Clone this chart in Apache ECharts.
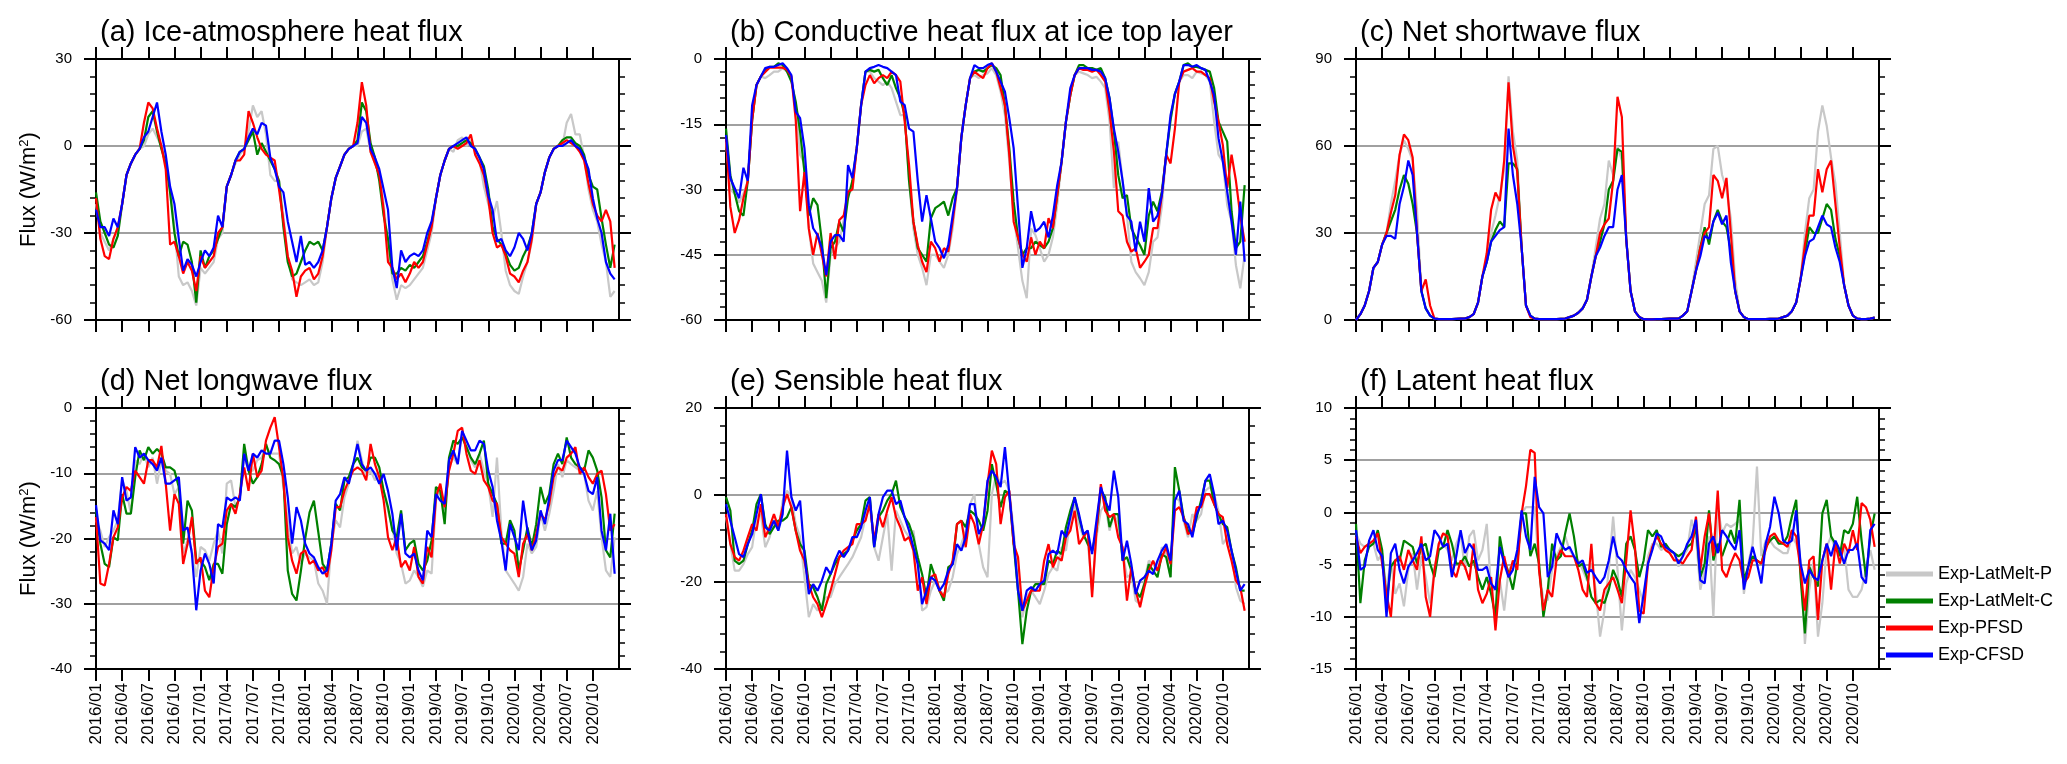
<!DOCTYPE html>
<html>
<head>
<meta charset="utf-8">
<script src="https://cdn.jsdelivr.net/npm/echarts@6/dist/echarts.min.js"></script>
<style>
html,body{margin:0;padding:0;background:#fff;}
#chart{width:2067px;height:764px;}
</style>
</head>
<body>
<div id="chart"></div>
<script>
// ---- categories (semi-monthly, 2016/01 .. 2020/12, plus closing edge 2021/01) ----
const years = [2016, 2017, 2018, 2019, 2020];
const months = ['01','02','03','04','05','06','07','08','09','10','11','12'];
const dates = [];
years.forEach(y => months.forEach(m => { dates.push(y + '/' + m + '-1'); dates.push(y + '/' + m + '-2'); }));
dates.push('2021/01-1');

const seriesNames = ['Exp-LatMelt-P', 'Exp-LatMelt-C', 'Exp-PFSD', 'Exp-CFSD'];
const panelTitles = ['(a) Ice-atmosphere heat flux', '(b) Conductive heat flux at ice top layer', '(c) Net shortwave flux',
                     '(d) Net longwave flux', '(e) Sensible heat flux', '(f) Latent heat flux'];
const yMin = [-60, -60, 0, -40, -40, -15];
const yMax = [30, 0, 90, 0, 20, 10];
const yStep = [30, 15, 30, 10, 20, 5];

// ---- (a) Ice-atmosphere heat flux ----
const aGray = [
-20,-30,-33,-36,-32,-29,-20,-10,-6,-3,-1,0,4,6,3,0,-5,-15,-28,-45,-48,-47,-50,-55,
-42,-44,-42,-40,-32,-30,-14,-10,-6,-3,-1,5,14,10,12,4,-10,-12,-12,-24,-38,-46,-47,-48,
-47,-46,-48,-47,-40,-28,-18,-11,-7,-3,-1,0,0,5,6,-2,-6,-10,-20,-34,-46,-53,-48,-49,
-48,-46,-44,-42,-36,-30,-18,-10,-5,-1,-2,2,3,0,2,-2,-5,-14,-20,-25,-19,-30,-43,-48,
-50,-51,-45,-40,-33,-20,-16,-9,-4,-1,0,0,8,11,4,4,-4,-15,-22,-26,-34,-40,-52,-50];
const aGreen = [
-16,-26,-30,-34,-35,-31,-20,-10,-6,-3,-1,2,10,12,5,-1,-6,-16,-30,-38,-33,-34,-40,-54,
-36,-42,-38,-36,-32,-28,-14,-10,-5,-2,-1,2,5,-3,1,-2,-5,-8,-12,-28,-40,-45,-44,-40,
-36,-33,-34,-33,-36,-28,-18,-11,-7,-3,-1,0,2,15,12,1,-4,-12,-24,-32,-44,-44,-42,-43,
-41,-42,-40,-38,-33,-27,-18,-10,-5,-1,0,0,1,2,1,-1,-4,-7,-15,-28,-32,-34,-37,-41,
-43,-42,-38,-35,-30,-20,-16,-9,-4,-1,0,2,3,3,1,0,-3,-10,-14,-15,-25,-34,-42,-34];
const aRed = [
-18,-32,-38,-39,-32,-28,-20,-10,-6,-3,-1,8,15,13,6,0,-8,-34,-33,-38,-44,-40,-43,-50,
-38,-42,-40,-38,-30,-28,-14,-10,-5,-5,-3,12,8,3,-1,-3,-4,-5,-15,-26,-38,-43,-52,-45,
-43,-42,-46,-44,-38,-28,-18,-11,-7,-3,-1,0,8,22,14,-2,-6,-10,-22,-40,-42,-46,-44,-47,
-44,-40,-42,-40,-34,-28,-18,-10,-5,-1,0,-1,0,1,4,-3,-6,-10,-18,-30,-35,-34,-38,-44,
-45,-47,-43,-40,-32,-20,-16,-9,-4,-1,0,1,2,1,0,-2,-5,-13,-20,-24,-26,-22,-26,-42];
const aBlue = [
-22,-28,-28,-31,-25,-28,-20,-10,-6,-3,-1,3,5,10,15,5,-3,-14,-20,-32,-43,-39,-41,-45,
-40,-36,-38,-35,-24,-28,-14,-10,-5,-2,-1,3,6,4,8,7,-4,-8,-14,-16,-26,-33,-40,-31,
-41,-40,-42,-40,-36,-28,-18,-11,-7,-3,-1,0,1,10,8,-1,-4,-8,-15,-22,-42,-49,-36,-40,
-38,-37,-38,-36,-30,-26,-18,-10,-5,-1,0,1,2,3,0,-1,-4,-8,-17,-22,-33,-32,-36,-38,
-35,-30,-32,-36,-30,-20,-16,-9,-4,-1,0,0,1,2,0,-1,-4,-8,-18,-25,-30,-40,-44,-46];

// ---- (b) Conductive heat flux at ice top layer ----
const bGray = [
-19,-30,-31,-33,-31,-28,-14,-6,-4,-4.4,-3.7,-2.9,-2.9,-2.1,-2.9,-4.4,-10.6,-22,-24,-39,-47,-49,-51,-56,
-45,-43.5,-42,-37,-31,-30,-20.5,-10.6,-2.9,-2.9,-4.4,-5.2,-6,-5.2,-6.7,-9.8,-12.9,-12.9,-28,-39,-45,-48,-52,-45,
-45,-46.6,-48,-45,-39,-30,-18,-10.6,-4.4,-3.7,-4.4,-3.7,-3.3,-2.1,-3.7,-7.5,-12.9,-23.6,-36,-43.5,-51,-55,-39,-40.5,
-43.5,-46.6,-45,-41,-33.6,-23.6,-14.4,-8.3,-3.7,-2.9,-3.3,-3.7,-4.4,-4.1,-5.2,-6.7,-14.4,-29.7,-19,-28,-36,-46.6,-49,-50.4,
-52,-49,-42,-41,-34,-22,-14,-8,-5.2,-3.7,-3.7,-4.4,-2.9,-3.3,-3.7,-5.2,-14.4,-22,-23.6,-33.6,-37.4,-47.4,-52.7,-45];
const bGreen = [
-16,-26.7,-31,-35,-36,-28,-14,-6,-4,-2.5,-1.8,-1.8,-1,-1.4,-2.9,-5.2,-9.8,-16.7,-26,-36,-32,-33.6,-42,-55,
-43.5,-42,-37.4,-39.7,-32,-28,-20.5,-10.6,-2.9,-2.5,-2.9,-2.5,-4.4,-6,-3.7,-6.7,-9,-12.9,-28,-37.4,-43.5,-45,-46.6,-36.6,
-34.3,-33.6,-32.8,-36,-32,-29.7,-18,-10.6,-4.4,-2.9,-2.5,-2.9,-2.1,-1.4,-2.1,-3.7,-10.6,-20.5,-32.8,-41,-45,-43.5,-43.5,-42,
-42.8,-43.5,-42,-38.9,-31.3,-23.6,-14.4,-8.3,-3.7,-1.4,-1.4,-2.1,-2.1,-2.5,-2.1,-4.4,-9,-16.7,-26.7,-32,-31.3,-38.9,-41,-42.8,
-45,-36,-32.8,-35,-30.5,-22,-14,-8,-5.2,-1.4,-1,-1.8,-1.8,-2.1,-2.5,-2.9,-6.7,-14.4,-16.7,-19,-35,-43.5,-42,-29];
const bRed = [
-18,-34,-40,-37,-32,-28,-14,-6,-4,-3,-2,-2,-2,-2,-2.5,-4,-14,-35,-26,-39,-45,-40,-45,-50,
-40,-46,-37,-36,-30.5,-30,-20.5,-10.6,-6,-3.7,-5.6,-4.4,-3.7,-4.4,-2.9,-3.7,-5.2,-14.4,-24.4,-37.4,-42.8,-46.6,-49,-42,
-43.5,-46.6,-43.5,-44.3,-37.4,-29.7,-18,-10.6,-4.4,-2.9,-3.7,-4.4,-2.1,-1,-2.9,-6.7,-10.6,-22,-37.4,-41,-45,-46.6,-41,-45,
-42,-43.5,-36.6,-38.9,-31.3,-23.6,-14.4,-8.3,-3.7,-2.1,-2.5,-2.5,-2.9,-2.5,-3.7,-5.2,-12.1,-21.3,-35,-36,-42,-44.3,-43.5,-48,
-46.6,-45,-38.9,-38.9,-31.3,-22,-24,-16,-5.2,-2.9,-2.5,-2.1,-2.9,-2.9,-3.7,-4.4,-9.8,-14.4,-19.8,-29.7,-22,-28,-36,-42];
const bBlue = [
-17.5,-27.4,-29.7,-32,-25,-28,-10.6,-6,-4,-2.1,-1.8,-1.8,-1.4,-1,-2.1,-3.7,-12.1,-13.6,-20.5,-33.6,-38.9,-40.5,-43.5,-49.7,
-42,-40.5,-40.5,-42,-24.4,-27.4,-20.5,-10.6,-2.9,-2.1,-1.8,-1.4,-1.8,-2.1,-2.9,-3.7,-9.8,-10.6,-16,-16.7,-28,-37.4,-31.3,-36.6,
-42,-43.5,-45.8,-42.8,-36,-29.7,-18,-10.6,-4.4,-1.4,-2.1,-2.1,-1.4,-1,-2.9,-5.2,-7.5,-13.6,-20.5,-34.3,-48,-43.5,-35,-39.7,
-38.9,-37.4,-41,-36,-29,-23.6,-14.4,-6.7,-3.7,-2.1,-2.1,-2.1,-2.5,-2.5,-2.9,-4.4,-9,-16,-21.3,-28,-36,-37.4,-44.3,-37.4,
-42,-29.7,-37.4,-36,-31.3,-22,-12.9,-8,-5.2,-1.4,-1.4,-1.8,-1.4,-2.1,-2.5,-5.2,-8.3,-18.2,-23.6,-30.5,-37.4,-45,-32.8,-46.6];

// ---- (c) Net shortwave flux ----
const cGray = [
0,2,5,10,18,20,26,30,40,48,57,62,59,55,38,10,4,1.5,0.5,0.3,0.3,0.3,0.3,0.4,
0.5,0.5,1,2,6,15,20,30,36,43,52,84,65,55,25,5,1.5,0.5,0.3,0.3,0.3,0.3,0.3,0.4,
0.5,1,1.5,2.5,4,7,15,25,35,40,55,50,60,55,28,10,3,1,0.3,0.2,0.2,0.3,0.3,0.4,
0.5,0.5,0.5,1.5,3,10,20,30,40,43,59,60,50,45,35,14,3,1,0.3,0.3,0.3,0.3,0.3,0.4,
0.4,0.5,1,1.5,3,6,14,30,42,45,65,74,67,56,47,30,12,5,1.5,0.5,0.3,0.3,0.5,0.8];
const cGreen = [
0,2,5,10,18,20,26,30,34,38,45,50,47,40,30,10,4,1.5,0.5,0.3,0.3,0.3,0.3,0.4,
0.5,0.5,1,2,6,15,20,27,31,34,32,54,54,52,25,5,1.5,0.5,0.3,0.3,0.3,0.3,0.3,0.4,
0.5,1,1.5,2.5,4,7,15,22,27,33,45,48,59,58,28,10,3,1,0.3,0.2,0.2,0.3,0.3,0.4,
0.5,0.5,0.5,1.5,3,10,17,25,32,26,34,38,34,32,24,10,3,1,0.3,0.3,0.3,0.3,0.3,0.4,
0.4,0.5,1,1.5,3,6,14,23,32,30,30,35,40,38,28,22,12,5,1.5,0.5,0.3,0.3,0.5,0.8];
const cRed = [
0,2,5,10,18,20,26,30,37,43,57,64,62,56,30,10,14,5,0.5,0.3,0.3,0.3,0.3,0.4,
0.5,0.5,1,2,6,15,23,38,44,41,55,82,60,51,25,5,1,0.5,0.3,0.3,0.3,0.3,0.3,0.4,
0.5,1,1.5,2.5,4,7,15,22,30,33,35,48,77,70,28,10,3,1,0.3,0.2,0.2,0.3,0.3,0.4,
0.5,0.5,0.5,1.5,3,10,17,25,30,32,50,48,42,49,30,10,3,1,0.3,0.3,0.3,0.3,0.3,0.4,
0.4,0.5,1,1.5,3,6,14,26,36,36,52,44,52,55,40,25,12,5,1.5,0.5,0.3,0.3,0.5,0.8];
const cBlue = [
0,2,5,10,18,20,26,29,29,28,40,46,55,50,30,10,4,1.5,0.5,0.3,0.3,0.3,0.3,0.4,
0.5,0.5,1,2,6,15,20,27,29,31,32,66,50,40,25,5,1.5,0.5,0.3,0.3,0.3,0.3,0.3,0.4,
0.5,1,1.5,2.5,4,7,15,22,25,29,32,32,45,50,28,10,3,1,0.3,0.2,0.2,0.3,0.3,0.4,
0.5,0.5,0.5,1.5,3,10,17,22,29,28,34,37,33,36,20,10,3,1,0.3,0.3,0.3,0.3,0.3,0.4,
0.4,0.5,1,1.5,3,6,14,22,27,28,32,36,33,32,25,20,12,5,1.5,0.5,0.3,0.3,0.5,0.8];

// ---- (d) Net longwave flux ----
const dGray = [
-17.2,-18.8,-21.3,-19.8,-18.8,-17.2,-11.1,-12.7,-16.2,-8,-8.6,-7,-9.1,-7.6,-11.6,-8,-9.6,-10.1,-13.2,-12.1,-22.3,-20.3,-21.8,-25.9,
-21.3,-21.8,-23.4,-20.8,-18.8,-22.3,-11.6,-11.1,-15.2,-13.7,-7.6,-9.6,-9.6,-8,-7.6,-6,-7,-7,-7,-12.1,-17.2,-22.3,-21.3,-23.9,
-22.3,-22.9,-23.4,-26.9,-28,-30,-20.8,-17.2,-18.3,-13.7,-11.6,-9.1,-5,-8,-10.6,-9.6,-11.1,-10.1,-12.7,-15.7,-18.3,-22.3,-23.9,-26.9,
-26.4,-24.9,-25.9,-27.4,-24.9,-25.4,-14.2,-12.7,-15.7,-9.1,-7.6,-8.6,-4,-5.5,-8,-9.1,-7,-9.6,-11.6,-16.7,-7.6,-18.8,-24.9,-25.9,
-26.9,-28,-25.9,-20.8,-22.3,-21.3,-16.2,-18.8,-16.2,-12.7,-8.6,-10.6,-8,-8.6,-9.1,-9.6,-10.1,-14.2,-15.7,-12.7,-19.8,-24.9,-25.9,-19.8];
const dGreen = [
-15.7,-20.8,-23.9,-24.4,-19.8,-20.3,-13.2,-16.2,-16.2,-10.6,-6.5,-8,-6,-7,-6.3,-7,-9.1,-9.1,-9.6,-12.1,-20.8,-14.2,-15.7,-23.4,
-23.4,-24.4,-26.4,-23.9,-23.9,-25.4,-17.8,-14.7,-15.2,-13.7,-5.5,-9.6,-11.6,-10.6,-8.6,-5.5,-7.6,-8,-8.6,-10.6,-24.9,-28.5,-29.5,-25,
-20,-16,-14.2,-19,-23.9,-24.9,-20.8,-14.7,-15.7,-11.1,-10.6,-8.6,-7.6,-9.1,-9.6,-7.6,-7.6,-9.1,-12.7,-15.2,-18.8,-19.8,-15.7,-21.8,
-20.8,-20.3,-23.9,-24.9,-23.4,-20.3,-12.1,-12.7,-17.8,-7.6,-5,-5.5,-4.5,-6,-7.6,-8.6,-7,-5,-11.6,-13.2,-14.7,-20.8,-20.8,-17.2,
-18.8,-24.9,-21.8,-18.3,-21.3,-17.8,-12.1,-14.7,-13.2,-8.6,-7,-8.6,-4.5,-7.6,-8.6,-9.1,-9.6,-6.5,-7.6,-9.6,-13.7,-21.8,-22.9,-16.2];
const dRed = [
-16.7,-26.9,-27.2,-23.9,-19.8,-18.3,-13.7,-12.1,-12.7,-9.6,-10.6,-11.6,-8,-8,-9.1,-5.8,-11.6,-18.8,-13.2,-14.7,-23.9,-20.8,-16.7,-23.9,
-22.9,-28,-29,-24.4,-21.3,-20.8,-15.7,-14.7,-16.2,-13.2,-9.1,-12.7,-7,-10.6,-9.6,-5,-3,-1.4,-6,-11.1,-19.8,-23.4,-25.4,-22.3,
-21.8,-23.9,-23.4,-24.9,-24.4,-25.9,-21.8,-15.2,-15.2,-12.7,-11.1,-9.6,-9.1,-9.6,-11.1,-5.5,-8.6,-10.6,-14.2,-19.8,-21.8,-19.8,-24.4,-23.4,
-24.9,-21.3,-25.9,-26.9,-21.3,-22.9,-13.7,-11.6,-15.2,-9.6,-7,-3.5,-3,-7,-9.6,-10.1,-8,-11.1,-12.1,-14.2,-14.7,-19.8,-20.8,-21.8,
-22.3,-25.9,-20.8,-19.3,-21.8,-19.3,-16.2,-17.2,-14.7,-10.6,-9.1,-9.6,-7.6,-7,-6,-10.1,-9.1,-10.6,-11.6,-10.1,-9.6,-13.2,-18.8,-17.8];
const dBlue = [
-14.9,-20.3,-20.8,-21.8,-15.7,-17.8,-10.6,-14.2,-13.7,-6,-7.6,-7,-8,-8.6,-9.6,-7.6,-11.6,-11.6,-11.1,-10.6,-18.8,-18.3,-22.3,-31,
-24.9,-22.3,-23.9,-26.9,-17.8,-18.3,-13.7,-14.2,-13.7,-14.2,-7,-9.6,-7,-7.6,-6.5,-7,-7,-5,-5,-8.6,-13.7,-20.8,-15.2,-17.2,
-20.8,-22.3,-22.9,-24.4,-25.4,-24.9,-20.8,-14.2,-13.2,-10.6,-11.6,-8.6,-5.5,-8.6,-9.6,-9.1,-10.1,-11.6,-10.1,-12.7,-16.2,-21.8,-16.2,-22.3,
-22.9,-22.3,-24.9,-26.4,-18.8,-19.8,-13.2,-14.2,-14.7,-8,-6.5,-8.6,-3.5,-5,-6.5,-6.5,-5,-5.5,-9.6,-12.1,-17.2,-20.3,-24.9,-17.8,
-19.8,-21.8,-14.2,-18.8,-21.8,-20.3,-15.7,-17.8,-13.7,-9.6,-8,-8,-5,-6,-7,-9.1,-10.1,-12.7,-13.2,-10.6,-18.8,-21.8,-16.2,-25.4];

// ---- (e) Sensible heat flux ----
const eGray = [
-5.1,-11.3,-17.4,-17.4,-15.9,-13.6,-12,-5.1,-4.4,-12,-9.7,-5.9,-8.2,-1.3,1,-0.5,-6.7,-9.7,-18.9,-28.1,-25.1,-26.6,-25.1,-23.5,
-23.5,-20.5,-18.9,-17.4,-15.9,-14.3,-12,-9.7,-5.1,-2.1,-12,-15.1,-9.7,-4.4,-17.4,-3.6,-5.9,-8.2,-9.7,-8.2,-15.9,-26.6,-25.8,-22,
-19.7,-22,-22.8,-22,-18.9,-13.6,-11.3,-8.2,-2.1,0.2,-11.3,-16.6,-18.9,0.2,4.8,2.5,3.3,1,-8.2,-20.5,-28.1,-23.5,-22,-23.5,
-25.1,-22,-18.2,-16.6,-17.4,-12,-12.8,-5.9,-2.1,-6.7,-9.7,-10.5,-22,-9.7,-3.6,-2.1,-8.2,-4.4,-6.7,-12.8,-18.9,-18.2,-24.3,-25.1,
-19.7,-15.1,-15.9,-17.4,-12,-13.6,-18.9,-0.5,-1.3,-5.9,-9.7,-4.4,-5.9,-4.4,1,1.8,0.2,-3.6,-11.3,-9.7,-12.8,-21.2,-24.3,-25.1];
const eGreen = [
-0.5,-3.6,-15.1,-15.9,-15.1,-11.3,-8.2,-2.1,0.2,-6.7,-9,-7.4,-5.9,-5.9,-5.1,-2.8,-8.2,-11.3,-12.8,-20.5,-21.2,-23.5,-26.6,-20.5,
-18.2,-15.9,-14.3,-13.6,-12.8,-10.5,-8.2,-6.7,-1.3,-0.5,-12,-5.1,-3.6,-1.3,0.2,3.3,-2.8,-5.1,-6.7,-9.7,-14.3,-18.2,-23.5,-15.9,
-18.9,-22,-24.3,-16.6,-15.9,-6.7,-5.9,-7.4,-3.6,-4.4,-5.9,-8.2,-3.6,7.1,2.5,-2.8,1,0.2,-11.3,-22,-34.3,-26.6,-22,-20.5,
-20.5,-20.5,-15.1,-15.9,-12.8,-13.6,-7.4,-3.6,-0.5,-5.1,-9,-11.3,-12.8,-8.2,1,-0.5,-7.4,-4.4,-4.4,-15.1,-14.3,-17.4,-22,-23.5,
-20.5,-15.9,-17.4,-18.9,-13.6,-14.3,-18.9,6.4,1,-5.1,-8.2,-9,-5.1,-1.3,3.3,3.3,-2.1,-4.4,-6.7,-7.4,-12.8,-16.6,-22,-22];
const eRed = [
-4.4,-11.3,-14.3,-15.1,-12.8,-9.7,-6.7,-8.2,-2.1,-9.7,-7.4,-4.4,-7.4,-2.8,0.2,-2.8,-8.2,-12.8,-15.1,-20.5,-23.5,-25.1,-28.1,-25.1,
-22,-18.2,-14.3,-12.8,-12,-11.3,-6.7,-6.7,-5.9,-2.1,-10.5,-4.4,-7.4,-3.6,-0.5,-5.1,-7.4,-10.5,-9.7,-12.8,-22,-18.9,-25.1,-18.9,
-18.2,-22,-23.5,-18.2,-15.1,-6.7,-5.9,-12,-4.4,-6.7,-11.3,-6.7,2.5,10.2,7.1,-6.7,-0.5,1,-11.3,-14.3,-26.6,-24.3,-22,-22,
-22,-15.1,-11.3,-16.6,-14.3,-15.1,-9.7,-8.2,-3.6,-11.3,-9.7,-8.2,-23.5,-8.2,2.5,-3.6,-5.1,-4.4,-9.7,-12,-24.3,-16.6,-22,-25.8,
-21.2,-17.4,-15.1,-17.4,-14.3,-12,-15.9,-3.6,-2.8,-5.1,-9,-8.2,-2.8,-2.8,0.2,0.2,-2.1,-4.4,-5.1,-11.3,-15.1,-19.7,-21.2,-26.6];
const eBlue = [
-2.1,-5.9,-9.7,-13.6,-14.3,-11.3,-9,-4.4,0.2,-7.4,-8.2,-5.9,-8.2,-4.4,10.2,-0.5,-3.6,-1.3,-13.6,-22.8,-20.5,-22,-19.7,-16.6,
-18.2,-15.1,-12.8,-14.3,-12.8,-9.7,-9.7,-7.4,-3.6,-0.5,-12,-4.4,-0.5,1,1,-2.1,-1.3,-5.1,-8.2,-12,-15.9,-25.1,-22,-18.9,
-19.7,-22,-20.5,-17.4,-15.9,-11.3,-12.8,-9.7,-2.1,-2.1,-9,-6.7,3.3,5.6,4.1,1.8,11,0.2,-9.7,-22,-26.6,-22,-21.2,-22,
-20.5,-19.7,-13.6,-12.8,-13.6,-8.2,-9.7,-5.1,-0.5,-4.4,-9,-8.2,-13.6,-5.9,1.8,-1.3,-3.6,5.6,-0.5,-15.1,-10.5,-15.9,-22.8,-19.7,
-18.9,-17.4,-18.2,-15.1,-12.8,-11.3,-15.1,-1.3,1,-5.9,-6.7,-9.7,-4.4,-2.1,3.3,4.8,0.2,-6.7,-5.9,-8.2,-12.8,-17.4,-22,-20.5];

// ---- (f) Latent heat flux ----
const fGray = [
-2,-3,-3.3,-3,-3,-4.6,-3.9,-7.4,-4.6,-7.8,-6.8,-9,-5.5,-3.9,-7.4,-4.2,-6.2,-8.7,-5.5,-3,-3,-3.6,-4.6,-3,
-2,-5.5,-2.3,-1.7,-4.6,-3.6,-1.1,-7.4,-7.4,-6.5,-9.4,-5.5,-4.9,-4.2,-0.1,0.5,0.5,0.5,-5.5,-8.4,-8.4,-5.5,-4.2,-3.3,
-2.3,-3.6,-4.2,-4.6,-5.5,-6.5,-4.9,-7.4,-11.9,-9.4,-5.5,-0.4,-5.5,-11.3,-6.8,-5.5,-6.2,-7.4,-8.7,-4.2,-3,-3,-3.6,-3.3,
-3.6,-3.9,-5.2,-4.2,-3.6,-0.7,-2.3,-7.4,-5.5,-2.3,-10,0.5,-2,-1.1,-1.4,-1.1,-0.7,-7.8,-4.9,-3,4.4,-4.2,-2.7,-2.7,
-3.3,-3.6,-3.9,-3.9,-2.3,-3,-4.6,-12.6,-7.4,-4.6,-11.9,-8.7,-3.3,-2.3,-3.6,-3.6,-3.3,-7.4,-8.1,-8.1,-7.4,-5.5,-3.6,-5.5];
const fGreen = [
-1.1,-8.7,-4.6,-3.3,-3,-1.7,-3.6,-8.7,-5.2,-4.6,-4.6,-2.7,-3,-3.3,-4.9,-3.3,-3,-4.9,-6.2,-3.6,-3.3,-1.7,-3,-4.9,
-4.9,-4.2,-5.2,-4.6,-6.2,-7.4,-6.2,-7.8,-10,-2.3,-4.6,-5.8,-7.4,-4.9,-0.1,-0.1,-4.2,-3,-4.9,-10,-7.4,-3,-4.6,-4.2,
-2,-0.1,-2.3,-5.2,-4.9,-6.2,-8.1,-8.7,-8.4,-8.7,-7.4,-5.5,-6.5,-8.1,-3,-2.3,-3.6,-6.2,-4.6,-1.7,-2.3,-1.7,-3.3,-3,
-3.6,-3.9,-4.2,-3.9,-3.3,-3,-1.4,-6.2,-4.9,0.2,-4.6,-3,-4.2,-3,-1.7,-3,1.2,-6.5,-5.2,-4.2,-4.6,-4.9,-3.3,-2.7,
-2.3,-3,-3,-2.3,-0.4,1.2,-6.2,-11.6,-5.2,-6.2,-7.1,-0.1,1.2,-2.3,-3,-4.2,-1.7,-2,-1.1,1.5,-2.7,-6.2,-2.3,-0.1];
const fRed = [
-2.3,-3.9,-3.3,-3,-2.7,-2,-4.9,-7.8,-10,-4.6,-4.2,-5.5,-3.6,-4.6,-5.5,-2.3,-8.1,-10,-5.5,-3,-2,-2.3,-5.5,-6.2,
-4.6,-5.2,-6.5,-3,-7.4,-8.7,-7.8,-6.2,-11.3,-6.5,-4.2,-6.2,-4.6,-5.5,-0.1,2.5,6,5.7,-5.5,-9.4,-7.4,-8.1,-4.6,-3.6,
-4.2,-4.2,-4.2,-5.5,-7.4,-8.1,-3,-8.7,-9.4,-7.4,-6.8,-6.2,-7.4,-8.7,-4.6,0.2,-3.3,-9.4,-9.7,-4.9,-3.3,-2.3,-3,-3.6,
-3.9,-4.6,-4.6,-4.9,-4.2,-3.6,-0.4,-5.5,-2.3,-0.1,-4.2,2.1,-5.5,-6.2,-4.9,-3.9,-4.6,-6.8,-6.2,-4.6,-4.6,-4.9,-3.6,-2.3,
-2,-2.7,-3,-3.3,-1.7,-2.3,-5.5,-9.4,-4.6,-4.2,-10.3,-4.6,-3,-7.4,-3,-4.9,-3,-3.9,-1.7,-3.6,0.9,0.5,-0.7,-3.3];
const fBlue = [
-1.7,-5.5,-5.2,-2.7,-1.7,-3.6,-4.2,-10,-3.9,-3,-5.5,-6.8,-5.2,-4.6,-3.9,-3,-4.6,-4.2,-1.7,-2.3,-3.3,-3,-6.2,-4.2,
-1.7,-3.9,-3,-3.6,-5.5,-5.5,-5.2,-6.8,-7.4,-3.3,-4.9,-6.2,-5.5,-3.6,0.2,-2.3,-3.6,3.4,0.5,-0.1,-6.2,-5.2,-2,-3,
-3.6,-3.3,-4.2,-4.9,-4.6,-5.8,-5.5,-6.2,-6.8,-6.2,-4.6,-2.3,-4.2,-4.6,-5.5,-6.2,-6.8,-10.6,-7.8,-4.9,-3.6,-2,-2.3,-3.3,
-3.6,-3.9,-4.9,-4.2,-3,-2.3,-0.7,-6.5,-6.8,-3,-2.3,-3.9,-1.7,-2.3,-3,-3.6,-1.7,-7.4,-5.2,-3.3,-4.9,-6.8,-3,-1.4,
1.5,-0.1,-2.7,-3,-2.7,0.2,-4.9,-6.8,-5.5,-6.2,-6.5,-4.6,-3,-4.2,-2.7,-3.6,-4.9,-3.6,-3.6,-3,-6.2,-6.8,-1.7,-1.1];

const panelData = [
  [aGray, aGreen, aRed, aBlue],
  [bGray, bGreen, bRed, bBlue],
  [cGray, cGreen, cRed, cBlue],
  [dGray, dGreen, dRed, dBlue],
  [eGray, eGreen, eRed, eBlue],
  [fGray, fGreen, fRed, fBlue]
];

// ---- styling / layout ----
const FONT = '"Liberation Sans", Arial, Helvetica, sans-serif';
const lineColors = ['#c8c8c8', '#008000', '#ff0000', '#0000ff'];
const gridLeft = [96, 726, 1356];
const gridTop = [59, 408];
const gridW = 523, gridH = 261;
const tickEvery = (idx) => idx % 6 === 0 && idx < 120;

const grids = [], xAxes = [], yAxes = [], series = [], titles = [];
for (let g = 0; g < 6; g++) {
  const col = g % 3, row = Math.floor(g / 3);
  grids.push({ left: gridLeft[col], top: gridTop[row], width: gridW, height: gridH, containLabel: false });
  titles.push({ text: panelTitles[g], left: gridLeft[col] - 1, top: gridTop[row] - 46,
    textStyle: { fontSize: 29, fontWeight: 'normal', color: '#000', fontFamily: FONT } });
  const baseX = {
    type: 'category', gridIndex: g, data: dates, boundaryGap: false,
    axisLine: { show: true, onZero: false, lineStyle: { color: '#000', width: 2 } },
    axisTick: { show: true, interval: tickEvery, length: 12, inside: false, lineStyle: { color: '#000', width: 2 } },
    splitLine: { show: false }
  };
  xAxes.push(Object.assign({}, baseX, {
    position: 'bottom',
    axisLabel: { show: row === 1, interval: tickEvery, rotate: 90, fontSize: 17, color: '#000', margin: 14,
      padding: [12, 0, 0, 0], fontFamily: FONT, formatter: v => v.slice(0, 7) }
  }));
  xAxes.push(Object.assign({}, baseX, { position: 'top', axisLabel: { show: false } }));
  const baseY = {
    type: 'value', gridIndex: g, min: yMin[g], max: yMax[g], interval: yStep[g],
    axisLine: { show: true, onZero: false, lineStyle: { color: '#000', width: 2 } },
    axisTick: { show: true, length: 12, inside: false, lineStyle: { color: '#000', width: 2 } },
    minorTick: { show: true, splitNumber: 5, length: 6, lineStyle: { color: '#000', width: 1.5 } }
  };
  const leftY = Object.assign({}, baseY, {
    position: 'left',
    axisLabel: { show: true, fontSize: 15, color: '#000', margin: 24, fontFamily: FONT },
    splitLine: { show: true, lineStyle: { color: '#808080', width: 1.5 } }
  });
  if (col === 0) {
    leftY.name = 'Flux (W/m{s|2})';
    leftY.nameLocation = 'middle';
    leftY.nameGap = 56;
    leftY.nameTextStyle = { fontSize: 22, color: '#000', fontFamily: FONT,
      rich: { s: { fontSize: 13, verticalAlign: 'top', padding: [0, 0, 9, 0], fontFamily: FONT, color: '#000' } } };
  }
  yAxes.push(leftY);
  yAxes.push(Object.assign({}, baseY, { position: 'right', axisLabel: { show: false }, splitLine: { show: false } }));
  for (let s = 0; s < 4; s++) {
    series.push({
      type: 'line', name: seriesNames[s], xAxisIndex: 2 * g, yAxisIndex: 2 * g,
      data: panelData[g][s], showSymbol: false, symbol: 'none',
      lineStyle: { color: lineColors[s], width: 2.2 }, itemStyle: { color: lineColors[s] },
      z: 2 + s, animation: false
    });
  }
}

// length check (debug aid)
const bad = [];
panelData.forEach((p, i) => p.forEach((arr, j) => { if (arr.length !== 120) bad.push(i + ':' + j + '=' + arr.length); }));

const chart = echarts.init(document.getElementById('chart'), null, { renderer: 'canvas' });
chart.setOption({
  backgroundColor: '#fff',
  animation: false,
  textStyle: { fontFamily: FONT },
  title: titles,
  legend: {
    orient: 'vertical', left: 1881, top: 560, itemWidth: 47, itemHeight: 5, itemGap: 9,
    icon: 'rect', data: seriesNames,
    textStyle: { fontSize: 18, color: '#000', lineHeight: 18, fontFamily: FONT }
  },
  graphic: bad.length ? [{ type: 'text', left: 10, top: 740, style: { text: 'LEN ' + bad.join(' '), fill: 'red', fontSize: 14 } }] : [],
  grid: grids,
  xAxis: xAxes,
  yAxis: yAxes,
  series: series
});
</script>
</body>
</html>
